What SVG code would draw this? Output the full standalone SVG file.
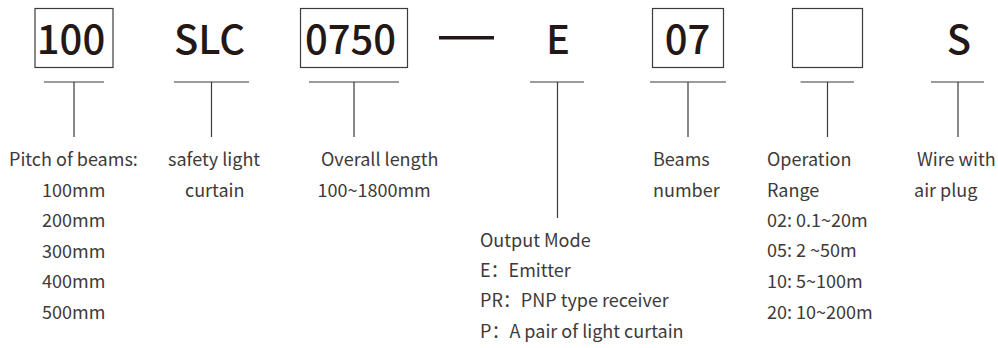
<svg xmlns="http://www.w3.org/2000/svg" width="998" height="348" viewBox="0 0 998 348">
<style>
.big{font-family:"Noto Sans CJK SC","Noto Sans",sans-serif;font-size:40px;fill:#231815;text-anchor:middle;font-weight:500}
.lbl{font-family:"Noto Sans CJK SC","Noto Sans",sans-serif;font-size:18px;fill:#3e3a39}
.box{fill:#fff;stroke:#3e3a39;stroke-width:1.2}
.ln{stroke:#3e3a39;stroke-width:1.2;fill:none}
</style>
<rect width="998" height="348" fill="#fff"/>
<g id="n-pitch">
<rect class="box" x="35" y="8.5" width="78" height="59"/>
<text class="big" x="71" y="53.5">100</text>
<text class="lbl" x="9" y="166">Pitch of beams:</text>
<text class="lbl" x="42" y="196.7">100mm</text>
<text class="lbl" x="42" y="227.3">200mm</text>
<text class="lbl" x="42" y="257.7">300mm</text>
<text class="lbl" x="42" y="288.3">400mm</text>
<text class="lbl" x="42" y="319">500mm</text>
</g>
<g id="n-slc">
<text class="big" x="209.5" y="53.5">SLC</text>
<text class="lbl" x="168" y="166">safety light</text>
<text class="lbl" x="185" y="196.7">curtain</text>
</g>
<g id="n-length">
<rect class="box" x="300.5" y="8.5" width="107" height="59"/>
<text class="big" x="350.5" y="53.5">0750</text>
<text class="lbl" x="321" y="166">Overall length</text>
<text class="lbl" x="317.5" y="196.7">100~1800mm</text>
</g>
<g id="n-dash">
<rect x="439" y="36" width="55" height="3.5" fill="#231815"/>
</g>
<g id="n-output">
<text class="big" x="558" y="53.5">E</text>
<text class="lbl" x="480" y="246.7">Output Mode</text>
<text class="lbl" x="480" y="276.7">E：Emitter</text>
<text class="lbl" x="480" y="307.3">PR：PNP type receiver</text>
<text class="lbl" x="480" y="337.5">P：A pair of light curtain</text>
</g>
<g id="n-beams">
<rect class="box" x="652.5" y="8.5" width="71" height="59"/>
<text class="big" x="687.5" y="53.5">07</text>
<text class="lbl" x="653" y="166">Beams</text>
<text class="lbl" x="653" y="196.7">number</text>
</g>
<g id="n-range">
<rect class="box" x="792.5" y="8.5" width="70" height="59"/>
<text class="lbl" x="767" y="166">Operation</text>
<text class="lbl" x="767" y="196.7">Range</text>
<text class="lbl" x="767" y="226.7">02: 0.1~20m</text>
<text class="lbl" x="767" y="257.3">05: 2 ~50m</text>
<text class="lbl" x="767" y="288">10: 5~100m</text>
<text class="lbl" x="767" y="318.5">20: 10~200m</text>
</g>
<g id="n-wire">
<text class="big" x="959" y="53.5">S</text>
<text class="lbl" x="917" y="166">Wire with</text>
<text class="lbl" x="914" y="196.7">air plug</text>
</g>
<g id="connectors">
<path class="ln" d="M44 82H104M74 82V137"/>
<path class="ln" d="M174 82H249M211.5 82V137"/>
<path class="ln" d="M309 82H399M354 82V137"/>
<path class="ln" d="M530 82H584M557.5 82V218"/>
<path class="ln" d="M650 82H726M688 82V137"/>
<path class="ln" d="M800.5 82H854M827.5 82V137"/>
<path class="ln" d="M931 82H984M958 82V137"/>
</g>
</svg>
